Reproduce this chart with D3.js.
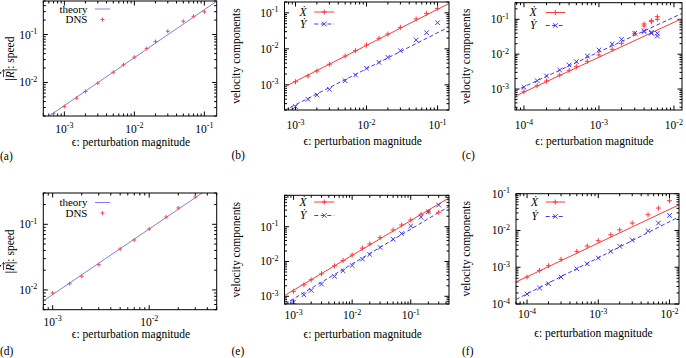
<!DOCTYPE html>
<html>
<head>
<meta charset="utf-8">
<script src="https://cdn.jsdelivr.net/npm/d3@7"></script>
<style>
body { margin: 0; background: #fff; }
svg { display: block; }
svg text { font-family: "Liberation Serif", "Times New Roman", "DejaVu Serif", serif; }
</style>
</head>
<body>
<div id="chart"></div>
<script>
// ---- data ----
// (a) speed vs epsilon
const epsA = [0.0007, 0.001, 0.0015, 0.002, 0.003, 0.005, 0.007, 0.01, 0.015, 0.02, 0.03, 0.05, 0.07, 0.1];
const dnsA = [0.00223, 0.00316, 0.00471, 0.0065, 0.00967, 0.0164, 0.0234, 0.0337, 0.0511, 0.0715, 0.117, 0.189, 0.240, 0.297];
const theoryA = [[5e-4, 0.00165], [0.15, 0.495]];

// (d)
const epsD = [0.001, 0.0015, 0.002, 0.003, 0.005, 0.007, 0.01, 0.015, 0.02, 0.03];
const dnsD = [0.0090, 0.01245, 0.01614, 0.0243, 0.0421, 0.0577, 0.0849, 0.1294, 0.1775, 0.261];
const theoryD = [[8e-4, 0.0068], [0.05, 0.425]];

// (b) velocity components
const epsB = [0.001, 0.0015, 0.002, 0.003, 0.005, 0.007, 0.01, 0.015, 0.02, 0.03, 0.05, 0.07, 0.1];
const xdotB = [1.22e-3, 1.76e-3, 2.42e-3, 3.72e-3, 6.3e-3, 8.9e-3, 0.0128, 0.0196, 0.0258, 0.0395, 0.0675, 0.0968, 0.133];
const ydotB = [2.47e-4, 3.96e-4, 5.2e-4, 7.5e-4, 1.3e-3, 1.87e-3, 2.88e-3, 4.2e-3, 5.8e-3, 8.9e-3, 0.0176, 0.0281, 0.0532];
const fitXB = [[7e-4, 8.75e-4], [0.145, 0.181]];
const fitYB = [[7e-4, 1.96e-4], [0.145, 0.0406]];

// (c)
const epsC = [1e-4, 1.5e-4, 2e-4, 3e-4, 4e-4, 5e-4, 7e-4, 1e-3, 1.5e-3, 2e-3, 3e-3, 4e-3, 5e-3, 6e-3, 4e-3, 5e-3, 6e-3];
const xdotC = [8.4e-4, 1.24e-3, 1.7e-3, 2.52e-3, 3.44e-3, 4.38e-3, 6.24e-3, 9.46e-3, 0.0138, 0.0205, 0.0396, 0.0643, 0.0855, 0.1, 0.0735, 0.0914, 0.119];
const ydotC = [1.12e-3, 1.73e-3, 2.37e-3, 3.52e-3, 4.89e-3, 6.08e-3, 8.85e-3, 0.0132, 0.0196, 0.0267, 0.0397, 0.0442, 0.0425, 0.0397, 0.0472, 0.0397, 0.0332];
const fitXC = [[7.6e-5, 6.2e-4], [0.0128, 0.105]];
const fitYC = [[7.6e-5, 8.8e-4], [0.0128, 0.148]];

// (e)
const epsE = [0.001, 0.0015, 0.002, 0.003, 0.005, 0.007, 0.01, 0.015, 0.02, 0.03, 0.05, 0.07, 0.1, 0.15, 0.2, 0.3];
const xdotE = [1.39e-3, 2.14e-3, 2.98e-3, 4.43e-3, 7.5e-3, 0.0107, 0.0155, 0.0242, 0.0321, 0.0489, 0.0807, 0.112, 0.156, 0.228, 0.27, 0.26];
const ydotE = [6.8e-4, 1.1e-3, 1.48e-3, 2.24e-3, 3.73e-3, 5.4e-3, 7.7e-3, 0.0117, 0.0159, 0.0253, 0.0436, 0.0637, 0.105, 0.187, 0.27, 0.42];
const fitXE = [[7e-4, 1.05e-3], [0.45, 0.675]];
const fitYE = [[7e-4, 5.95e-4], [0.45, 0.383]];

// (f)
const epsF = [1e-4, 1.5e-4, 2e-4, 3e-4, 5e-4, 7e-4, 1e-3, 1.5e-3, 2e-3, 3e-3, 5e-3, 7e-3, 1e-2];
const xdotF = [5.4e-4, 8.2e-4, 1.1e-3, 1.64e-3, 2.7e-3, 3.77e-3, 5.26e-3, 7.66e-3, 0.0104, 0.0159, 0.0268, 0.0407, 0.0643];
const ydotF = [1.87e-4, 2.72e-4, 3.56e-4, 5.4e-4, 9.1e-4, 1.24e-3, 1.78e-3, 2.7e-3, 3.7e-3, 5.48e-3, 9.8e-3, 0.0159, 0.0257];
const fitXF = [[7e-5, 3.96e-4], [0.0136, 0.0499]];
const fitYF = [[7e-5, 1.33e-4], [0.0136, 0.0234]];

const xLabel = "\u03F5: perturbation magnitude";
const vLabel = "velocity components";

// ---- drawing ----
const FONT = "Liberation Serif, Times New Roman, DejaVu Serif, serif";
const FS = 11.5;
const RED = "#ff3a3a", BLUE = "#3a3aff", THEORY = "#7c7cff", DNS = "#ff4a4a";

const svg = d3.select("#chart").append("svg")
    .attr("width", 686).attr("height", 358)
    .attr("font-family", FONT);

function logTicks(dom) {
    const out = [];
    const e0 = Math.floor(Math.log10(dom[0])), e1 = Math.ceil(Math.log10(dom[1]));
    for (let e = e0; e <= e1; e++) {
        for (let k = 1; k < 10; k++) {
            const v = k * Math.pow(10, e);
            if (v >= dom[0] * 0.9999 && v <= dom[1] * 1.0001) out.push({v: v, major: k === 1, e: e});
        }
    }
    return out;
}

function powLabel(sel, e) {
    sel.text("10");
    sel.append("tspan").attr("font-size", 8).attr("dy", -4.5).text(e);
}

function marker(g, kind, cx, cy, color, r) {
    const d = kind === "plus"
        ? `M${cx - r},${cy}H${cx + r}M${cx},${cy - r}V${cy + r}`
        : `M${cx - r},${cy - r}L${cx + r},${cy + r}M${cx - r},${cy + r}L${cx + r},${cy - r}`;
    g.append("path").attr("d", d).attr("stroke", color).attr("stroke-width", 1).attr("fill", "none");
}

// |R| with arrow and dot above R, written bottom-to-top
function speedLabel(g, cx, cy) {
    const grp = g.append("g").attr("transform", `translate(${cx},${cy}) rotate(-90)`);
    const t = grp.append("text").attr("font-size", FS);
    t.append("tspan").text("|");
    const r = t.append("tspan").attr("font-style", "italic").text("R");
    t.append("tspan").text("|: speed");
    const w = t.node().getComputedTextLength();
    const bar = grp.append("text").attr("font-size", FS).text("|");
    const wBar = bar.node().getComputedTextLength();
    bar.remove();
    const rr = grp.append("text").attr("font-size", FS).attr("font-style", "italic").text("R");
    const wR = rr.node().getComputedTextLength();
    rr.remove();
    t.attr("x", -w / 2);
    const a0 = -w / 2 + wBar + 1, a1 = a0 + wR + 0.5;
    grp.append("path").attr("d", `M${a0},-10.5H${a1}M${a1 - 2},-12L${a1},-10.5L${a1 - 2},-9`)
        .attr("stroke", "#000").attr("stroke-width", 0.7).attr("fill", "none");
    grp.append("circle").attr("cx", (a0 + a1) / 2 + 0.5).attr("cy", -13.5).attr("r", 0.8).attr("fill", "#000");
}

let clipN = 0;
function drawPanel(p) {
    const [x0, x1, y0, y1] = p.box;   // left, right, top, bottom
    const x = d3.scaleLog().domain(p.xDom).range([x0, x1]);
    const y = d3.scaleLog().domain(p.yDom).range([y1, y0]);
    const g = svg.append("g");
    const id = "clip" + (clipN++);
    svg.append("clipPath").attr("id", id).append("rect")
        .attr("x", x0).attr("y", y0).attr("width", x1 - x0).attr("height", y1 - y0);

    // ticks on all four sides, pointing inward
    const tk = g.append("g").attr("stroke", "#000").attr("stroke-width", 1);
    logTicks(p.xDom).forEach(t => {
        const px = x(t.v), L = t.major ? 4.5 : 2.5;
        tk.append("line").attr("x1", px).attr("x2", px).attr("y1", y1).attr("y2", y1 - L);
        tk.append("line").attr("x1", px).attr("x2", px).attr("y1", y0).attr("y2", y0 + L);
        if (t.major) {
            g.append("text").attr("x", px).attr("y", p.xTickY).attr("text-anchor", "middle")
                .attr("font-size", FS).call(powLabel, "-" + Math.abs(t.e));
        }
    });
    logTicks(p.yDom).forEach(t => {
        const py = y(t.v), L = t.major ? 4.5 : 2.5;
        tk.append("line").attr("x1", x0).attr("x2", x0 + L).attr("y1", py).attr("y2", py);
        tk.append("line").attr("x1", x1).attr("x2", x1 - L).attr("y1", py).attr("y2", py);
        if (t.major) {
            g.append("text").attr("x", x0 - 6).attr("y", py + 4).attr("text-anchor", "end")
                .attr("font-size", FS).call(powLabel, "-" + Math.abs(t.e));
        }
    });

    // lines and points
    const plot = g.append("g").attr("clip-path", `url(#${id})`);
    const line = d3.line().x(d => x(d[0])).y(d => y(d[1]));
    p.series.forEach(s => {
        if (s.fit) {
            plot.append("path").attr("d", line(s.fit)).attr("fill", "none")
                .attr("stroke", s.color).attr("stroke-width", 1)
                .attr("stroke-dasharray", s.dash || null);
        }
    });
    p.series.forEach(s => {
        if (s.eps) {
            s.eps.forEach((e, i) => marker(plot, s.mark, x(e), y(s.vals[i]), s.color, s.r));
        }
    });

    // frame
    g.append("rect").attr("x", x0).attr("y", y0).attr("width", x1 - x0).attr("height", y1 - y0)
        .attr("fill", "none").attr("stroke", "#000").attr("stroke-width", 1);

    // legend
    p.legend.forEach(l => {
        const t = g.append("text").attr("x", l.tx).attr("y", l.ty).attr("text-anchor", "end")
            .attr("font-size", l.fs || FS);
        if (l.italic) t.attr("font-style", "italic");
        t.text(l.label);
        const ly = l.ty - 3.5;
        if (l.line) {
            g.append("line").attr("x1", l.lx[0]).attr("x2", l.lx[1]).attr("y1", ly).attr("y2", ly)
                .attr("stroke", l.color).attr("stroke-width", 1).attr("stroke-dasharray", l.dash || null);
        }
        if (l.mark) marker(g, l.mark, (l.lx[0] + l.lx[1]) / 2, ly, l.color, l.r);
    });

    // axis labels
    if (p.speed) {
        speedLabel(g, p.yLabelX, (y0 + y1) / 2);
    } else {
        g.append("text")
            .attr("transform", `translate(${p.yLabelX},${(y0 + y1) / 2}) rotate(-90)`)
            .attr("text-anchor", "middle").attr("font-size", FS).text(vLabel);
    }
    g.append("text").attr("x", p.xLabelX).attr("y", p.xLabelY).attr("text-anchor", "middle")
        .attr("font-size", FS).text(xLabel);
    g.append("text").attr("x", p.tagX).attr("y", p.tagY).attr("font-size", FS).text(p.tag);
}

function speedPanel(box, xDom, yDom, eps, dns, theory, ys, tag, tagY, xTickY, xLabelY) {
    drawPanel({
        box: box, xDom: xDom, yDom: yDom, speed: true,
        series: [
            {fit: theory, color: THEORY},
            {eps: eps, vals: dns, mark: "plus", color: DNS, r: 2}
        ],
        legend: [
            {label: "theory", tx: 87.5, ty: ys[0], fs: 11, line: true, lx: [95, 110], color: THEORY},
            {label: "DNS", tx: 87.5, ty: ys[1], fs: 11, mark: "plus", lx: [95, 110], color: DNS, r: 2}
        ],
        yLabelX: 14, xLabelX: 131, xLabelY: xLabelY, xTickY: xTickY,
        tag: tag, tagX: 0, tagY: tagY
    });
}

function velPanel(box, xDom, yDom, eps, xd, yd, fx, fy, lxText, lxLine, ys, yLabelX, tag, tagX, tagY, xTickY, xLabelY) {
    drawPanel({
        box: box, xDom: xDom, yDom: yDom,
        series: [
            {fit: fx, color: RED},
            {fit: fy, color: BLUE, dash: "4,2.5"},
            {eps: eps, vals: xd, mark: "plus", color: RED, r: 2.5},
            {eps: eps, vals: yd, mark: "cross", color: BLUE, r: 2.3}
        ],
        legend: [
            {label: "\u1E8A", italic: true, tx: lxText, ty: ys[0], line: true, mark: "plus", lx: lxLine, color: RED, r: 2.5},
            {label: "\u1E8E", italic: true, tx: lxText, ty: ys[1], line: true, mark: "cross", dash: "4,2.5", lx: lxLine, color: BLUE, r: 2.3}
        ],
        yLabelX: yLabelX, xLabelX: (box[0] + box[1]) / 2 - 4, xLabelY: xLabelY, xTickY: xTickY,
        tag: tag, tagX: tagX, tagY: tagY
    });
}

speedPanel([43.3, 216.7, 1, 116], [5e-4, 0.15], [0.002, 0.5], epsA, dnsA, theoryA, [12.5, 23], "(a)", 160, 132.5, 146);
speedPanel([43.3, 216.7, 193, 309.7], [8e-4, 0.05], [0.005, 0.3], epsD, dnsD, theoryD, [206, 216.5], "(d)", 355, 325.5, 338);

velPanel([284.5, 449, 2, 110], [7e-4, 0.145], [2e-4, 0.2], epsB, xdotB, ydotB, fitXB, fitYB,
    306.5, [314.3, 334.3], [15.5, 27.5], 240, "(b)", 231.5, 159, 129, 145);
velPanel([515, 682, 2.7, 110], [7.6e-5, 0.0128], [2.5e-4, 0.3], epsC, xdotC, ydotC, fitXC, fitYC,
    536.5, [545.7, 565], [16, 29], 470, "(c)", 462, 159, 129, 145);
velPanel([284.5, 449, 195.3, 304], [7e-4, 0.45], [6e-4, 0.8], epsE, xdotE, ydotE, fitXE, fitYE,
    306.5, [314.3, 334.3], [205.5, 219], 240, "(e)", 231.5, 355, 319, 338);
velPanel([516, 679, 193.7, 304], [7e-5, 0.0136], [1e-4, 0.1], epsF, xdotF, ydotF, fitXF, fitYF,
    538, [545.7, 565], [205.5, 220], 470, "(f)", 462, 355, 318, 336.5);
</script>
</body>
</html>
